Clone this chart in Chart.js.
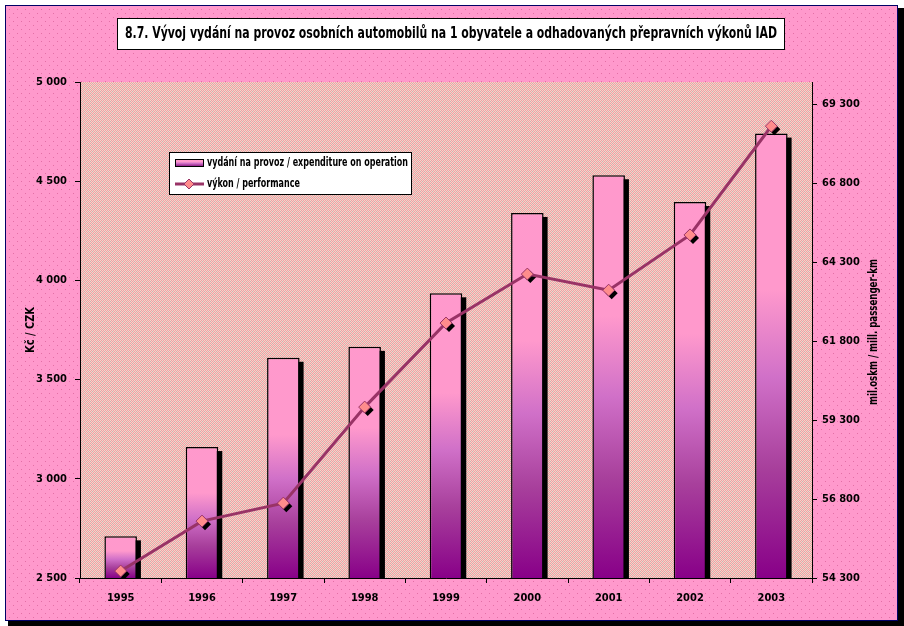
<!DOCTYPE html>
<html lang="cs">
<head>
  <meta charset="UTF-8">
  <title>Vývoj vydání na provoz osobních automobilů</title>
  <script src="https://cdn.jsdelivr.net/npm/chart.js"></script>
  <style>
    html, body { margin: 0; padding: 0; background: white; }
    #wrap { width: 904px; height: 626px; }
  </style>
</head>
<body>
  <div id="wrap"><canvas id="graf" width="904" height="626"></canvas></div>

  <script>
    const roky = ['1995', '1996', '1997', '1998', '1999', '2000', '2001', '2002', '2003'];
    const vydani = [2710, 3160, 3610, 3665, 3935, 4340, 4530, 4395, 4740];
    const vykon = [54520, 56100, 56670, 59710, 62370, 63920, 63410, 65160, 68600];
    const leveTicky = [2500, 3000, 3500, 4000, 4500, 5000];
    const praveTicky = [54300, 56800, 59300, 61800, 64300, 66800, 69300];

    const nazev = '8.7. Vývoj vydání na provoz osobních automobilů na 1 obyvatele a odhadovaných přepravních výkonů IAD';
    const popisVydani = 'vydání na provoz / expenditure on operation';
    const popisVykon = 'výkon / performance';
    const osaLeva = 'Kč / CZK';
    const osaPrava = 'mil.oskm / mill. passenger-km';

    const FONT = "'DejaVu Sans Condensed', 'Liberation Sans', sans-serif";
    const CARA = '#993366';

    function mezery(v) {
      return String(v).replace(/\B(?=(\d{3})+(?!\d))/g, ' ');
    }

    // vzorky pozadí
    function vzorek(w, h, fn) {
      const c = document.createElement('canvas');
      c.width = w; c.height = h;
      fn(c.getContext('2d'));
      return c;
    }
    const ruzova = vzorek(8, 8, g => {
      g.fillStyle = '#ff99cc'; g.fillRect(0, 0, 8, 8);
      g.fillStyle = '#e46fa6'; g.fillRect(1, 1, 1, 1); g.fillRect(5, 5, 1, 1);
    });
    const textura = vzorek(4, 4, g => {
      g.fillStyle = '#f7d2c8'; g.fillRect(0, 0, 4, 4);
      g.fillStyle = '#eca2a6';
      [[1,0],[3,0],[0,1],[2,3],[1,2],[3,2]].forEach(p => g.fillRect(p[0], p[1], 1, 1));
      g.fillStyle = '#c9b4b0';
      [[2,1],[0,3]].forEach(p => g.fillRect(p[0], p[1], 1, 1));
    });

    function gradient(ctx, y0, y1) {
      const g = ctx.createLinearGradient(0, y0, 0, y1);
      g.addColorStop(0, '#ff99cc');
      g.addColorStop(0.35, '#ff99cc');
      g.addColorStop(0.55, '#d070c8');
      g.addColorStop(0.75, '#a8409c');
      g.addColorStop(1, '#880088');
      return g;
    }

    function diamant(ctx, x, y, r, fill, stroke) {
      ctx.beginPath();
      ctx.moveTo(x, y - r); ctx.lineTo(x + r, y); ctx.lineTo(x, y + r); ctx.lineTo(x - r, y);
      ctx.closePath();
      ctx.fillStyle = fill; ctx.fill();
      if (stroke) { ctx.strokeStyle = stroke; ctx.lineWidth = 1; ctx.stroke(); }
    }

    // text stažený na danou šířku
    function textNaSirku(ctx, s, x, y, sirka, align) {
      const w = ctx.measureText(s).width;
      const k = Math.min(1, sirka / w);
      ctx.save();
      ctx.translate(x, y);
      ctx.scale(k, 1);
      ctx.textAlign = align;
      ctx.fillText(s, 0, 0);
      ctx.restore();
      return k;
    }

    const pozadi = {
      id: 'pozadi',
      beforeDraw(chart) {
        const ctx = chart.ctx;
        const a = chart.chartArea;
        ctx.save();
        ctx.fillStyle = 'white'; ctx.fillRect(0, 0, 904, 626);
        ctx.fillStyle = '#000000'; ctx.fillRect(8, 8, 896, 618);
        ctx.fillStyle = '#000066'; ctx.fillRect(5, 5, 893, 616);
        ctx.fillStyle = ctx.createPattern(ruzova, 'repeat'); ctx.fillRect(6, 6, 891, 614);
        ctx.fillStyle = ctx.createPattern(textura, 'repeat');
        ctx.fillRect(a.left, a.top, a.right - a.left, a.bottom - a.top);
        ctx.restore();
      },
      beforeDatasetDraw(chart, args) {
        const ctx = chart.ctx;
        const a = chart.chartArea;
        const meta = chart.getDatasetMeta(args.index);
        ctx.save();
        ctx.beginPath();
        ctx.rect(a.left, a.top, a.right - a.left, a.bottom - a.top);
        ctx.clip();
        ctx.fillStyle = '#000';
        if (args.index === 0) {
          meta.data.forEach(b => {
            const dole = Math.min(b.base, a.bottom);
            ctx.fillRect(b.x - b.width / 2 + 4, b.y + 4, b.width, dole - b.y - 4);
          });
        } else {
          meta.data.forEach(p => diamant(ctx, p.x + 3, p.y + 3, 6, '#000'));
        }
        ctx.restore();
      },
      afterDraw(chart) {
        const ctx = chart.ctx;
        const a = chart.chartArea;
        ctx.save();
        // titulek
        ctx.fillStyle = 'white'; ctx.fillRect(117, 18, 667, 31);
        ctx.strokeStyle = '#000'; ctx.lineWidth = 1; ctx.strokeRect(117.5, 18.5, 667, 31);
        ctx.fillStyle = '#000';
        ctx.font = 'bold 16px ' + FONT;
        ctx.textBaseline = 'middle';
        textNaSirku(ctx, nazev, 451, 34, 652, 'center');

        // legenda
        ctx.fillStyle = 'white'; ctx.fillRect(169, 152, 242, 42);
        ctx.strokeRect(169.5, 152.5, 242, 42);
        ctx.fillStyle = gradient(ctx, 159, 167);
        ctx.fillRect(175, 159, 28, 7);
        ctx.strokeRect(175.5, 159.5, 28, 7);
        ctx.strokeStyle = CARA; ctx.lineWidth = 3;
        ctx.beginPath(); ctx.moveTo(175, 184); ctx.lineTo(204, 184); ctx.stroke();
        diamant(ctx, 189, 184, 5, '#ff8c8c', CARA);
        ctx.fillStyle = '#000';
        ctx.font = 'bold 12px ' + FONT;
        const k = textNaSirku(ctx, popisVydani, 207, 163, 201, 'left');
        textNaSirku(ctx, popisVykon, 207, 184, ctx.measureText(popisVykon).width * k, 'left');

        // názvy os
        ctx.font = 'bold 12px ' + FONT;
        ctx.translate(31, (a.top + a.bottom) / 2);
        ctx.rotate(-Math.PI / 2);
        textNaSirku(ctx, osaLeva, 0, 0, 46, 'center');
        ctx.setTransform(1, 0, 0, 1, 0, 0);
        ctx.translate(874, (a.top + a.bottom) / 2 + 2);
        ctx.rotate(-Math.PI / 2);
        textNaSirku(ctx, osaPrava, 0, 0, 146, 'center');
        ctx.restore();
      }
    };

    const tickFont = { family: FONT, size: 11, weight: 'bold' };

    new Chart(document.getElementById('graf'), {
      data: {
        labels: roky,
        datasets: [
          {
            type: 'bar',
            label: popisVydani,
            data: vydani,
            yAxisID: 'y',
            order: 2,
            borderColor: '#000',
            borderWidth: 1.5,
            barPercentage: 0.4,
            categoryPercentage: 1,
            backgroundColor: c => {
              const area = c.chart.chartArea;
              if (!area || c.type !== 'data') return '#ff99cc';
              const y = c.chart.scales.y.getPixelForValue(c.raw);
              return gradient(c.chart.ctx, y, area.bottom);
            }
          },
          {
            type: 'line',
            label: popisVykon,
            data: vykon,
            yAxisID: 'y1',
            order: 1,
            borderColor: CARA,
            borderWidth: 3,
            tension: 0,
            pointStyle: 'rectRot',
            pointRadius: 6,
            pointBackgroundColor: '#ff8c8c',
            pointBorderColor: CARA,
            pointBorderWidth: 1
          }
        ]
      },
      options: {
        responsive: false,
        animation: false,
        layout: { padding: { top: 82, left: 0, right: 0, bottom: 0 } },
        plugins: { legend: { display: false }, tooltip: { enabled: false } },
        scales: {
          x: {
            afterFit: s => { s.height = 48; },
            grid: { display: true, drawOnChartArea: false, drawTicks: true, tickLength: 5, color: '#000', offset: true },
            border: { display: true, color: '#000' },
            ticks: { color: '#000', font: tickFont, padding: 9 }
          },
          y: {
            position: 'left',
            min: 2500,
            max: 5000,
            afterFit: s => { s.width = 80; },
            afterBuildTicks: s => { s.ticks = leveTicky.map(v => ({ value: v })); },
            grid: { display: true, drawOnChartArea: false, drawTicks: true, tickLength: 5, color: '#000' },
            border: { display: true, color: '#000' },
            ticks: { color: '#000', font: tickFont, padding: 8, callback: v => mezery(v) }
          },
          y1: {
            position: 'right',
            min: 54300,
            max: 70000,
            afterFit: s => { s.width = 92; },
            afterBuildTicks: s => { s.ticks = praveTicky.map(v => ({ value: v })); },
            grid: { display: true, drawOnChartArea: false, drawTicks: true, tickLength: 5, color: '#000' },
            border: { display: true, color: '#000' },
            ticks: { color: '#000', font: tickFont, padding: 5, callback: v => mezery(v) }
          }
        }
      },
      plugins: [pozadi]
    });
  </script>
</body>
</html>
